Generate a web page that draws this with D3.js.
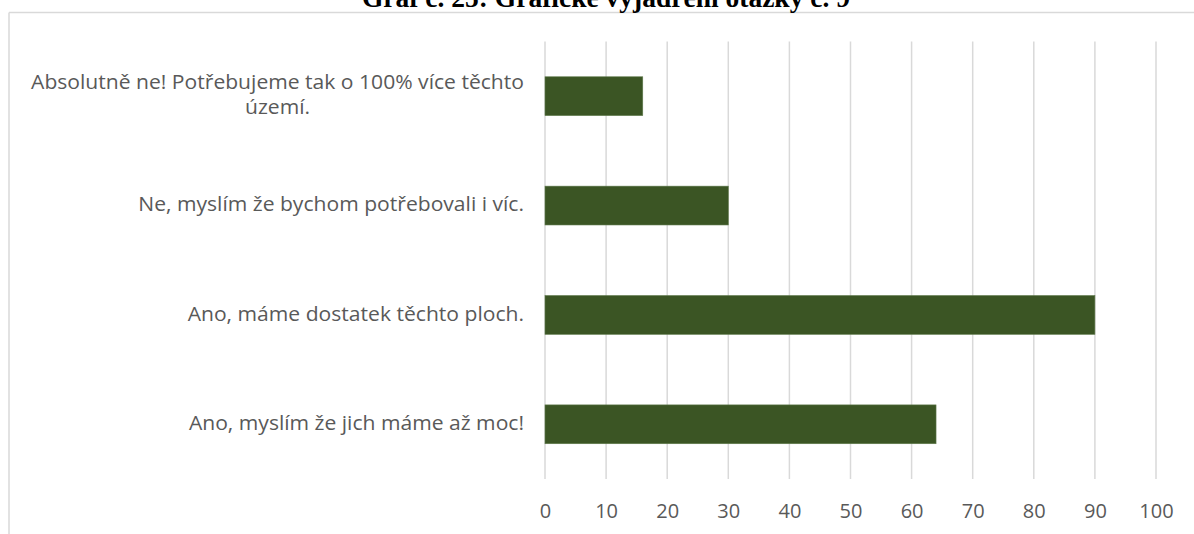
<!DOCTYPE html>
<html>
<head>
<meta charset="utf-8">
<script src="https://cdn.jsdelivr.net/npm/d3@7"></script>
<style>
    html, body { margin: 0; padding: 0; background: #fff; }
    svg { display: block; }
</style>
</head>
<body>
<div id="chart"></div>
<script>
// chart data
const TITLE = 'Graf č. 25: Grafické vyjádření otázky č. 9'
const categories = [
    'Absolutně ne! Potřebujeme tak o 100% více těchto území.',
    'Ne, myslím že bychom potřebovali i víc.',
    'Ano, máme dostatek těchto ploch.',
    'Ano, myslím že jich máme až moc!'
]
const values = [16, 30, 90, 64]
const xTicks = [0, 10, 20, 30, 40, 50, 60, 70, 80, 90, 100]

// layout constants
const W = 1194
const H = 534
const X0 = 545
const X1 = 1156
const Y0 = 41.5
const Y1 = 479
const LABEL_GAP = 21
const LABEL_MAX = 480
const LABEL_STRETCH = 1.055   // the source image is a bit wider than tall
const FONT = '"Open Sans", "Noto Sans", sans-serif'
const TEXT_COLOR = '#595959'
const BAR_COLOR = '#3b5524'
const GRID_COLOR = '#d9d9d9'

const svg = d3.select('#chart').append('svg')
    .attr('width', W)
    .attr('height', H)

// frame of the chart area (only top and left edges are visible)
svg.append('line')
    .attr('x1', 9).attr('x2', W).attr('y1', 12.5).attr('y2', 12.5)
    .attr('stroke', GRID_COLOR).attr('stroke-width', 1.5)
svg.append('line')
    .attr('x1', 9).attr('x2', 9).attr('y1', 12.5).attr('y2', H)
    .attr('stroke', GRID_COLOR).attr('stroke-width', 1.5)

// title, mostly cut off at the top of the image
svg.append('text')
    .attr('x', 606)
    .attr('y', 7)
    .attr('text-anchor', 'middle')
    .attr('font-family', '"Liberation Serif", "Times New Roman", serif')
    .attr('font-weight', 'bold')
    .attr('font-size', 27.5)
    .attr('fill', '#000')
    .text(TITLE)

const x = d3.scaleLinear().domain([0, 100]).range([X0, X1])
const y = d3.scaleBand()
    .domain(categories)
    .range([Y0, Y1])
    .paddingInner(0.645)
    .paddingOuter(0.3225)

// vertical gridlines
svg.append('g')
    .selectAll('line')
    .data(xTicks)
    .join('line')
        .attr('x1', d => x(d))
        .attr('x2', d => x(d))
        .attr('y1', Y0)
        .attr('y2', Y1)
        .attr('stroke', GRID_COLOR)
        .attr('stroke-width', 1.5)

// x axis tick labels
const xAxis = d3.axisBottom(x).tickValues(xTicks).tickSize(0).tickPadding(0)
const gx = svg.append('g')
    .attr('transform', `translate(0, ${Y1 + 25})`)
    .call(xAxis)
gx.select('.domain').remove()
gx.selectAll('text')
    .attr('font-family', FONT)
    .attr('font-size', 20)
    .attr('fill', TEXT_COLOR)

// bars
svg.append('g')
    .selectAll('rect')
    .data(values)
    .join('rect')
        .attr('x', x(0))
        .attr('y', (d, i) => y(categories[i]))
        .attr('width', d => x(d) - x(0))
        .attr('height', y.bandwidth())
        .attr('fill', BAR_COLOR)
        .attr('stroke', '#5f7a4c')
        .attr('stroke-width', 0.6)

// category labels, wrapped and centred like Excel does
const RIGHT = X0 - LABEL_GAP
const glabels = svg.append('g')
    .attr('transform', `translate(${RIGHT},0) scale(${LABEL_STRETCH},1)`)
    .attr('font-family', FONT)
    .attr('font-size', 20)
    .attr('fill', TEXT_COLOR)

categories.forEach(function (cat) {
    const t = glabels.append('text').attr('text-anchor', 'middle')
    // split into lines that fit LABEL_MAX
    const words = cat.split(' ')
    let lines = []
    let line = []
    const probe = t.append('tspan')
    for (const w of words) {
        line.push(w)
        probe.text(line.join(' '))
        if (probe.node().getComputedTextLength() > LABEL_MAX && line.length > 1) {
            line.pop()
            lines.push(line.join(' '))
            line = [w]
        }
    }
    lines.push(line.join(' '))
    probe.remove()

    const widths = lines.map(l => {
        const p = t.append('tspan').text(l)
        const wd = p.node().getComputedTextLength()
        p.remove()
        return wd
    })
    const blockW = d3.max(widths)
    const cx = -blockW / 2
    const lh = 25
    const cy = y(cat) + y.bandwidth() / 2
    lines.forEach((l, i) => {
        t.append('tspan')
            .attr('x', cx)
            .attr('y', cy + (i - (lines.length - 1) / 2) * lh)
            .attr('dy', '0.28em')
            .text(l)
    })
})
</script>
</body>
</html>
